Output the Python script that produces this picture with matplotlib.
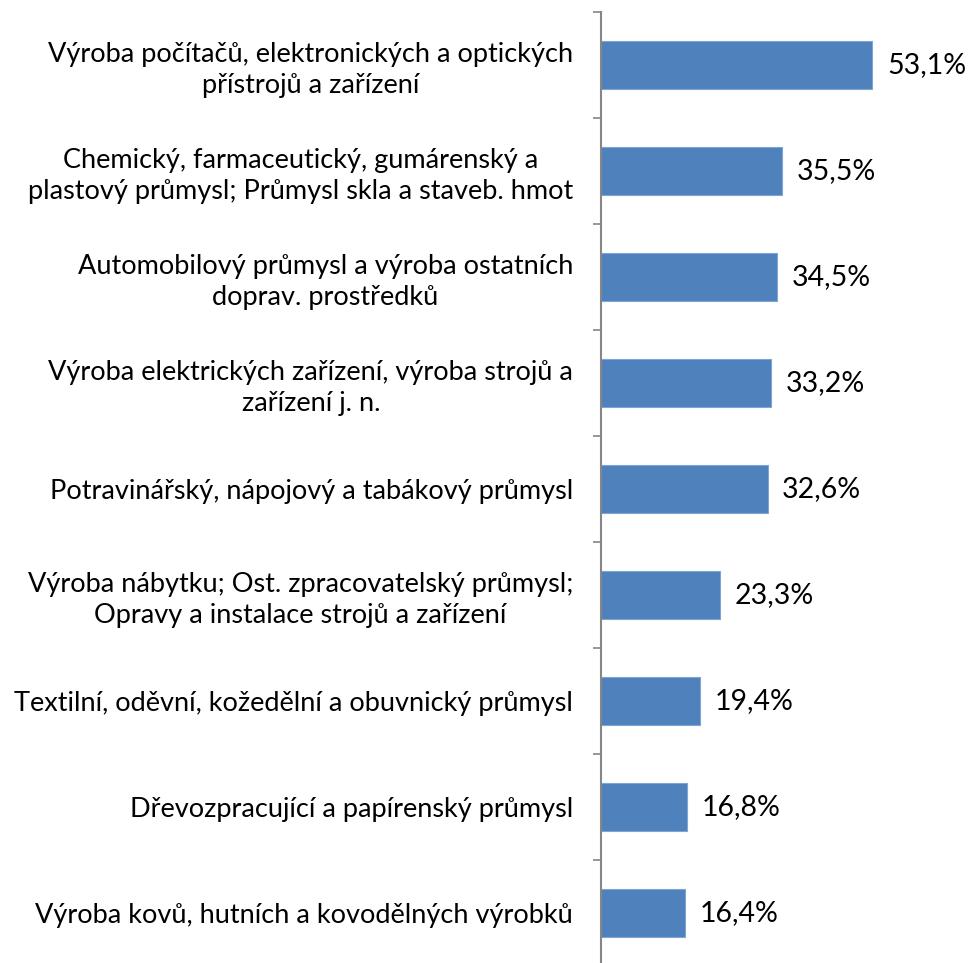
import matplotlib
matplotlib.use("Agg")
import matplotlib.pyplot as plt

plt.rcParams['font.family'] = ['Lato', 'DejaVu Sans']

# data
categories = [
    "Výroba počítačů, elektronických a optických\npřístrojů a zařízení",
    "Chemický, farmaceutický, gumárenský a\nplastový průmysl; Průmysl skla a staveb. hmot",
    "Automobilový průmysl a výroba ostatních\ndoprav. prostředků",
    "Výroba elektrických zařízení, výroba strojů a\nzařízení j. n.",
    "Potravinářský, nápojový a tabákový průmysl",
    "Výroba nábytku; Ost. zpracovatelský průmysl;\nOpravy a instalace strojů a zařízení",
    "Textilní, oděvní, kožedělní a obuvnický průmysl",
    "Dřevozpracující a papírenský průmysl",
    "Výroba kovů, hutních a kovodělných výrobků",
]
values = [53.1, 35.5, 34.5, 33.2, 32.6, 23.3, 19.4, 16.8, 16.4]

W, H = 969, 963
fig = plt.figure(figsize=(W / 100, H / 100), dpi=100)
ax = fig.add_axes([601 / W, 1 - 966 / H, 368 / W, 954 / H])

pos = list(range(len(values)))
ax.barh(pos, values, height=0.45, color="#4F81BD", edgecolor="#7FA5D3", linewidth=0.8)
ax.set_ylim(len(values) - 0.5, -0.5)
ax.set_xlim(0, 72)

for y, v in zip(pos, values):
    ax.annotate(f"{v:.1f}%".replace(".", ","), (v, y), xytext=(10.5, 0),
                textcoords="offset points", va="center", ha="left", fontsize=20.5)

ax.set_yticks(pos)
ax.set_yticklabels(categories, fontsize=19.5, multialignment="center", linespacing=1.3)
ax.set_yticks([p - 0.5 for p in pos] + [len(values) - 0.5], minor=True)
ax.tick_params(axis="y", which="major", length=0, pad=20)
ax.tick_params(axis="y", which="minor", length=5.5, width=1.2, color="#868686", direction="out")
ax.set_xticks([])
for s in ["top", "right", "bottom"]:
    ax.spines[s].set_visible(False)
ax.spines["left"].set_color("#868686")
ax.spines["left"].set_linewidth(1.5)

fig.savefig("out.png", dpi=100)
